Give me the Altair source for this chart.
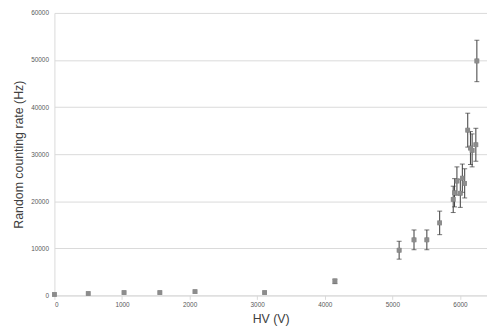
import altair as alt
import pandas as pd

hv = [0, 500, 1030, 1560, 2080, 3110, 4150, 5100, 5320, 5510, 5700, 5900, 5920, 5955, 6005, 6035, 6070, 6115, 6155, 6180, 6235, 6250]
rate = [200, 400, 600, 600, 800, 600, 3000, 9600, 11800, 11800, 15400, 20400, 21800, 24300, 21700, 24900, 23800, 35100, 31300, 30800, 32000, 49800]
err = [0, 0, 0, 0, 0, 0, 500, 1900, 2100, 2100, 2500, 2800, 3000, 3000, 3000, 3000, 3100, 3600, 3500, 3500, 3500, 4400]

df = pd.DataFrame({"hv": hv, "rate": rate, "err": err})
df["lo"] = df["rate"] - df["err"]
df["hi"] = df["rate"] + df["err"]
dfe = df[df["err"] > 0]

FONT = "Liberation Sans"

x = alt.X("hv:Q", title="HV (V)",
          scale=alt.Scale(domain=[0, 6400], nice=False),
          axis=alt.Axis(values=[0, 1000, 2000, 3000, 4000, 5000, 6000], grid=False, format="d",
                        domainColor="#d9d9d9", tickColor="#d9d9d9", tickSize=4,
                        labelFontSize=6.5, labelColor="#595959", labelPadding=2,
                        titleFontSize=12.5, titleFontWeight="normal", titleColor="#404040",
                        titlePadding=5, labelFont=FONT, titleFont=FONT))
y = alt.Y("rate:Q", title="Random counting rate (Hz)",
          scale=alt.Scale(domain=[0, 60000], nice=False),
          axis=alt.Axis(values=[0, 10000, 20000, 30000, 40000, 50000, 60000], format="d",
                        gridColor="#d9d9d9", domainColor="#d9d9d9", ticks=False,
                        labelFontSize=6.5, labelColor="#595959", labelPadding=6,
                        titleFontSize=12.5, titleFontWeight="normal", titleColor="#404040",
                        titlePadding=5, labelFont=FONT, titleFont=FONT))

base = alt.Chart(dfe)
rules = base.mark_rule(color="#3a3a3a", strokeWidth=1).encode(
    x=alt.X("hv:Q"), y=alt.Y("lo:Q"), y2="hi:Q")
caps_lo = base.mark_tick(color="#3a3a3a", orient="horizontal", size=5, thickness=1).encode(
    x="hv:Q", y="lo:Q")
caps_hi = base.mark_tick(color="#3a3a3a", orient="horizontal", size=5, thickness=1).encode(
    x="hv:Q", y="hi:Q")
points = alt.Chart(df).mark_square(color="#8c8c8c", size=22, opacity=1).encode(x=x, y=y)

chart = alt.layer(points, rules, caps_lo, caps_hi, points).properties(
    width=438, height=286,
    autosize=alt.AutoSizeParams(type="none"),
    padding={"left": 47, "top": 3, "right": 0, "bottom": 30},
).configure_view(stroke=None)

chart.save("out.html", embed_options={"renderer": "svg", "actions": False})
